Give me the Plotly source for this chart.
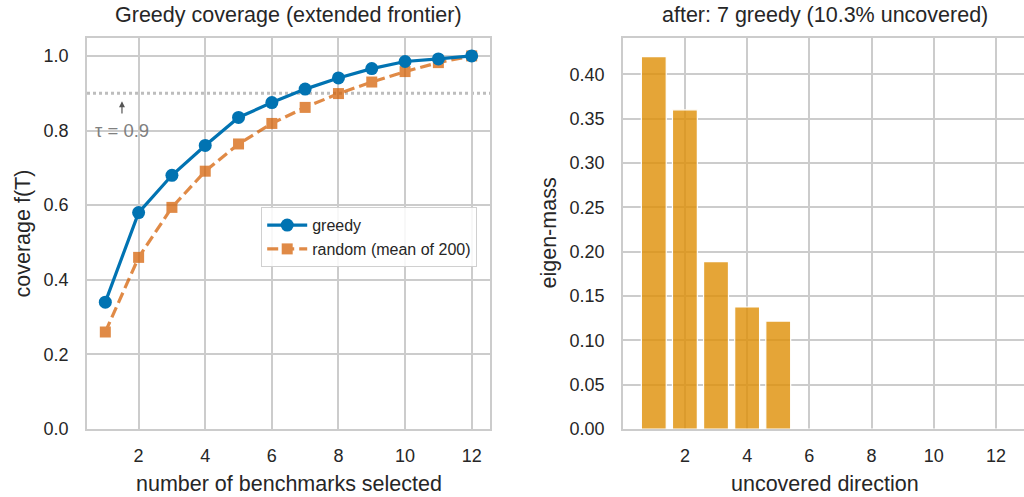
import plotly.graph_objects as go
from plotly.subplots import make_subplots

# ---- data ----
k_selected = [1, 2, 3, 4, 5, 6, 7, 8, 9, 10, 11, 12]
greedy_cov = [0.340, 0.580, 0.680, 0.760, 0.835, 0.875, 0.911, 0.941, 0.966, 0.985, 0.992, 1.000]
random_cov = [0.260, 0.460, 0.594, 0.691, 0.764, 0.819, 0.862, 0.899, 0.930, 0.958, 0.982, 1.000]
tau = 0.9

directions = [1, 2, 3, 4, 5, 6, 7, 8, 9, 10, 11, 12]
eigen_mass = [0.420, 0.360, 0.1887, 0.1376, 0.1217, 0, 0, 0, 0, 0, 0, 0]

left_title = "Greedy coverage (extended frontier)"
right_title = "after: 7 greedy (10.3% uncovered)"

W, H = 1024, 497
FONT = "Liberation Sans, Arial, sans-serif"
TXT = "#262626"
GRID = "#cccccc"

fig = make_subplots(rows=1, cols=2)

fig.add_trace(go.Scatter(
    x=k_selected, y=random_cov, mode="lines+markers", name="random (mean of 200)",
    line=dict(color="#D55E00", width=3.2, dash="11px,5px"),
    marker=dict(symbol="square", size=11, color="#D55E00"),
    opacity=0.72, legendrank=2,
), row=1, col=1)

fig.add_trace(go.Scatter(
    x=k_selected, y=greedy_cov, mode="lines+markers", name="greedy",
    line=dict(color="#0173B2", width=3.2),
    marker=dict(symbol="circle", size=13, color="#0173B2"),
    legendrank=1,
), row=1, col=1)

fig.add_trace(go.Bar(
    x=directions, y=eigen_mass, width=0.8, showlegend=False,
    marker=dict(color="rgba(222,143,5,0.8)", line=dict(color="white", width=1.2)),
), row=1, col=2)

# domains in pixels
lx0, lx1 = 87, 490
rx0, rx1 = 623, 1024
yt, yb = 38, 429

def px(x):
    return x / W

def py(y):
    return 1 - y / H

common_axis = dict(
    showgrid=True, gridcolor=GRID, gridwidth=1.5,
    showline=True, linecolor=GRID, linewidth=1.6,
    zeroline=False, ticks="outside", tickcolor="rgba(0,0,0,0)",
    tickfont=dict(family=FONT, size=18, color=TXT), automargin=False,
)

fig.update_xaxes(**common_axis, ticklen=10, mirror=True, domain=[px(lx0), px(lx1)],
                 range=[0.45, 12.55], tickvals=[2, 4, 6, 8, 10, 12], row=1, col=1)
fig.update_yaxes(**common_axis, ticklen=13, mirror=True, domain=[py(yb), py(yt)],
                 range=[0, 1.048], tickvals=[0, 0.2, 0.4, 0.6, 0.8, 1.0],
                 tickformat=".1f", row=1, col=1)
fig.update_xaxes(**common_axis, ticklen=10, mirror=True, domain=[px(rx0), 1.0],
                 range=[0.01, 12.9], tickvals=[2, 4, 6, 8, 10, 12], row=1, col=2)
fig.update_yaxes(**common_axis, ticklen=13, mirror=False, domain=[py(yb), py(yt)],
                 range=[0, 0.441], tickvals=[0, 0.05, 0.1, 0.15, 0.2, 0.25, 0.3, 0.35, 0.4],
                 tickformat=".2f", row=1, col=2)

# tau threshold line
fig.add_shape(type="line", xref="x domain", yref="y", x0=0, x1=1, y0=tau, y1=tau,
              line=dict(color="#bdbdbd", width=3, dash="3px,3px"), layer="below")

# tau annotation
fig.add_annotation(x=1.5, y=tau, xref="x", yref="y", ax=1.5, ay=0.8, axref="x", ayref="y",
                   text="τ = 0.9", showarrow=True, arrowhead=2, arrowsize=1, arrowwidth=1.2,
                   arrowcolor="#555555", standoff=8, startstandoff=5,
                   font=dict(family=FONT, size=18.5, color="#808080"))

annots = [
    (left_title, (lx0 + lx1) / 2, 15, 0, 21.5),
    (right_title, (rx0 + 1027) / 2, 15, 0, 21.5),
    ("number of benchmarks selected", (lx0 + lx1) / 2, 484, 0, 21.5),
    ("uncovered direction", (rx0 + 1027) / 2, 484, 0, 21.5),
    ("coverage f(T)", 22, (yt + yb) / 2, -90, 21.5),
    ("eigen-mass", 548, (yt + yb) / 2, -90, 21.5),
]
for text, x, y, ang, size in annots:
    fig.add_annotation(x=px(x), y=py(y), xref="paper", yref="paper", text=text,
                       showarrow=False, textangle=ang, xanchor="center", yanchor="middle",
                       font=dict(family=FONT, size=size, color=TXT))

fig.update_layout(
    width=W, height=H, margin=dict(l=0, r=0, t=0, b=0),
    plot_bgcolor="white", paper_bgcolor="white",
    legend=dict(x=px(261), y=py(207), xanchor="left", yanchor="top",
                bgcolor="rgba(255,255,255,0.85)", bordercolor="#d0d0d0", borderwidth=1.2,
                font=dict(family=FONT, size=16, color=TXT), tracegroupgap=0,
                itemwidth=40),
    bargap=0.2,
)

fig.write_html("out.html", config={"displayModeBar": False},
               post_script="document.body.style.margin='0';document.body.style.overflow='hidden';")
